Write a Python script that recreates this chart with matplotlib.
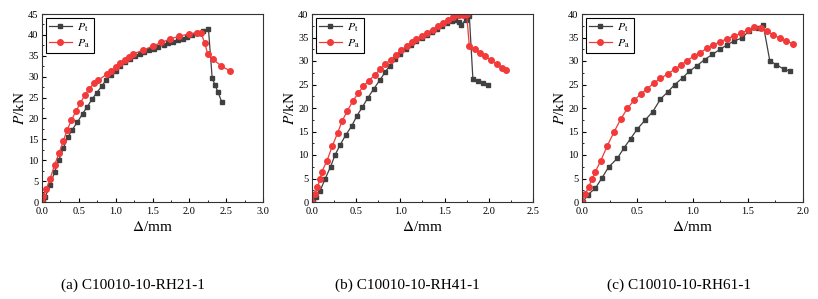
import matplotlib
matplotlib.use("Agg")
import matplotlib.pyplot as plt
from matplotlib.ticker import MultipleLocator

plt.rcParams["font.family"] = "Liberation Serif"
plt.rcParams["mathtext.fontset"] = "stix"

# (a) C10010-10-RH21-1
a_pt_x = [0.01, 0.04, 0.11, 0.17, 0.23, 0.29, 0.35, 0.41, 0.48, 0.55, 0.61, 0.68, 0.74, 0.81,
          0.87, 0.94, 1.00, 1.06, 1.13, 1.19, 1.26, 1.33, 1.39, 1.45, 1.52, 1.58, 1.65, 1.71,
          1.78, 1.84, 1.91, 1.97, 2.04, 2.10, 2.19, 2.26, 2.31, 2.35, 2.39, 2.44]
a_pt_y = [0.0, 1.1, 4.0, 7.2, 10.1, 12.9, 15.5, 17.3, 19.1, 21.1, 22.7, 24.6, 26.1, 27.7,
          29.2, 30.4, 31.4, 32.5, 33.4, 34.2, 34.9, 35.4, 35.9, 36.3, 36.7, 37.2, 37.6, 38.0,
          38.4, 38.8, 39.1, 39.5, 39.9, 40.4, 41.0, 41.3, 29.7, 27.9, 26.3, 23.9]
a_pa_x = [0.00, 0.02, 0.06, 0.11, 0.17, 0.23, 0.29, 0.34, 0.40, 0.46, 0.52, 0.58, 0.64, 0.71,
          0.76, 0.88, 0.94, 1.00, 1.06, 1.12, 1.18, 1.24, 1.37, 1.50, 1.62, 1.74, 1.86, 1.99,
          2.11, 2.16, 2.21, 2.25, 2.32, 2.43, 2.55]
a_pa_y = [0.0, 1.5, 3.1, 5.6, 8.8, 11.7, 14.6, 17.2, 19.6, 21.7, 23.7, 25.5, 27.1, 28.5,
          29.1, 30.6, 31.4, 32.2, 33.2, 34.1, 34.8, 35.5, 36.3, 37.3, 38.2, 39.0, 39.7, 40.2,
          40.5, 40.4, 38.0, 35.4, 34.2, 32.6, 31.4]

# (b) C10010-10-RH41-1
b_pt_x = [0.01, 0.04, 0.09, 0.15, 0.21, 0.26, 0.32, 0.38, 0.45, 0.51, 0.57, 0.63, 0.70, 0.77,
          0.83, 0.88, 0.94, 1.00, 1.06, 1.12, 1.18, 1.24, 1.30, 1.36, 1.41, 1.47, 1.53, 1.58,
          1.62, 1.66, 1.69, 1.74, 1.78, 1.82, 1.88, 1.93, 1.99]
b_pt_y = [0.5, 1.0, 2.3, 5.0, 7.5, 10.0, 12.2, 14.2, 16.2, 18.4, 20.2, 22.1, 24.1, 26.0,
          27.7, 29.0, 30.4, 31.5, 32.5, 33.4, 34.2, 34.9, 35.6, 36.2, 36.8, 37.4, 38.0, 38.6,
          38.7, 38.2, 37.7, 38.8, 39.5, 26.2, 25.8, 25.3, 24.8]
b_pa_x = [0.00, 0.03, 0.06, 0.09, 0.11, 0.17, 0.23, 0.29, 0.34, 0.40, 0.46, 0.52, 0.58, 0.64,
          0.71, 0.77, 0.83, 0.89, 0.95, 1.01, 1.07, 1.13, 1.18, 1.24, 1.30, 1.37, 1.43, 1.48,
          1.54, 1.60, 1.66, 1.71, 1.75, 1.78, 1.84, 1.90, 1.96, 2.02, 2.09, 2.15, 2.20]
b_pa_y = [0.0, 1.7, 3.1, 4.8, 6.4, 8.8, 11.9, 14.7, 17.2, 19.4, 21.4, 23.1, 24.6, 25.8,
          27.0, 28.2, 29.3, 30.3, 31.3, 32.3, 33.2, 34.0, 34.7, 35.4, 36.0, 36.7, 37.4, 38.1,
          38.8, 39.4, 39.8, 39.8, 39.9, 33.1, 32.5, 31.8, 31.0, 30.2, 29.3, 28.5, 28.0]

# (c) C10010-10-RH61-1
c_pt_x = [0.01, 0.05, 0.12, 0.18, 0.24, 0.32, 0.38, 0.44, 0.50, 0.57, 0.64, 0.71, 0.78, 0.84,
          0.91, 0.97, 1.04, 1.11, 1.18, 1.25, 1.31, 1.38, 1.45, 1.51, 1.59, 1.64, 1.70, 1.76,
          1.83, 1.88]
c_pt_y = [0.0, 1.5, 2.9, 5.1, 7.4, 9.3, 11.5, 13.5, 15.5, 17.4, 19.2, 21.9, 23.5, 25.0,
          26.4, 27.8, 29.0, 30.3, 31.4, 32.5, 33.4, 34.3, 34.9, 36.4, 37.0, 37.7, 30.0, 29.2,
          28.2, 27.9]
c_pa_x = [0.00, 0.03, 0.06, 0.09, 0.12, 0.17, 0.23, 0.29, 0.35, 0.41, 0.47, 0.53, 0.59, 0.65,
          0.71, 0.78, 0.84, 0.90, 0.95, 1.01, 1.07, 1.13, 1.19, 1.25, 1.31, 1.38, 1.44, 1.50,
          1.56, 1.62, 1.67, 1.73, 1.79, 1.85, 1.91]
c_pa_y = [0.0, 1.7, 3.2, 4.8, 6.4, 8.8, 12.0, 14.9, 17.6, 19.9, 21.6, 22.9, 24.1, 25.3,
          26.3, 27.3, 28.3, 29.2, 30.1, 31.0, 31.8, 32.7, 33.4, 34.1, 34.7, 35.4, 35.9, 36.6,
          37.2, 37.1, 36.3, 35.6, 34.8, 34.2, 33.7]

captions = ["(a) C10010-10-RH21-1", "(b) C10010-10-RH41-1", "(c) C10010-10-RH61-1"]
xlims = [3.0, 2.5, 2.0]
ylims = [45, 40, 40]

panels = [
    (a_pt_x, a_pt_y, a_pa_x, a_pa_y),
    (b_pt_x, b_pt_y, b_pa_x, b_pa_y),
    (c_pt_x, c_pt_y, c_pa_x, c_pa_y),
]

W, H = 818, 299
fig = plt.figure(figsize=(W / 100, H / 100), dpi=100)

lefts = [42, 312, 582]
cap_x = [133, 407, 679]
for i, (ptx, pty, pax, pay) in enumerate(panels):
    ax = fig.add_axes([lefts[i] / W, (H - 202) / H, 221 / W, 188 / H])
    ax.plot(ptx, pty, color="#404040", marker="s", ms=3.5, lw=0.9,
            label=r"$\mathit{P}_{\rm t}$")
    ax.plot(pax, pay, color="#f23a3a", marker="o", ms=4.0, lw=0.9,
            label=r"$\mathit{P}_{\rm a}$")
    ax.set_xlim(0, xlims[i])
    ax.set_ylim(0, ylims[i])
    ax.xaxis.set_major_locator(MultipleLocator(0.5))
    ax.xaxis.set_minor_locator(MultipleLocator(0.25))
    ax.yaxis.set_major_locator(MultipleLocator(5))
    ax.yaxis.set_minor_locator(MultipleLocator(2.5))
    ax.tick_params(which="both", direction="in", labelsize=7.5,
                   top=False, right=False)
    ax.tick_params(axis="x", pad=3.5)
    ax.tick_params(axis="y", pad=2.5)
    ax.tick_params(which="major", length=3)
    ax.tick_params(which="minor", length=1.5)
    for sp in ax.spines.values():
        sp.set_color("#333333")
        sp.set_linewidth(0.8)
    ax.set_xlabel(r"$\mathit{\Delta}$/mm", fontsize=11, labelpad=3)
    ax.set_ylabel(r"$\mathit{P}$/kN", fontsize=11, labelpad=1)
    leg = ax.legend(loc="upper left", fontsize=8.5, fancybox=False, edgecolor="black",
                    borderaxespad=0.3, handlelength=1.9, handletextpad=0.5,
                    borderpad=0.3, labelspacing=0.3, framealpha=1)
    leg.get_frame().set_linewidth(0.8)
    fig.text(cap_x[i] / W, 1 - 285 / H, captions[i], ha="center", va="center",
             fontsize=11)

fig.savefig("out.png", dpi=100)
